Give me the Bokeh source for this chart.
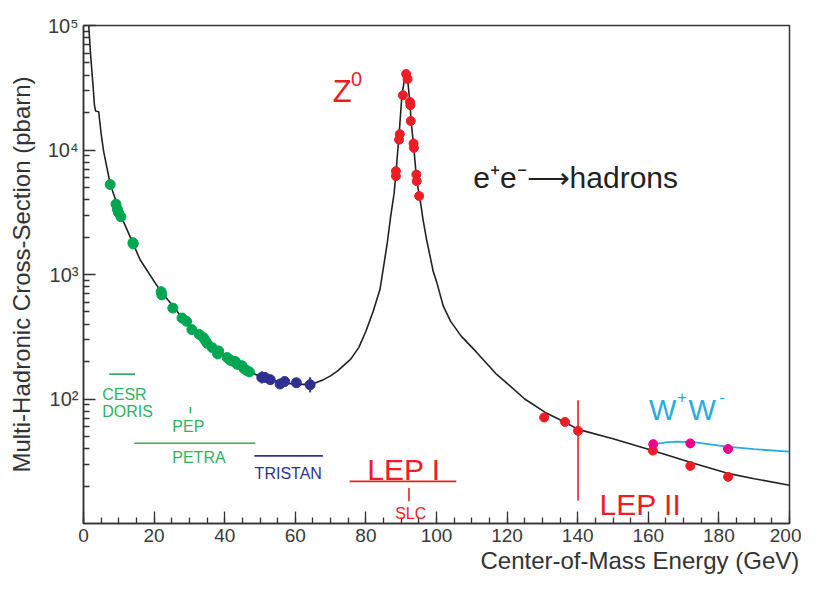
from bokeh.plotting import figure
from bokeh.models import FixedTicker, Label, ColumnDataSource
from bokeh.embed import file_html
from bokeh.resources import INLINE

# ---------------- data ----------------
# Standard-model curve e+e- -> hadrons (GeV, pb)
curve_E = [1.5, 1.96, 2.7, 3.1, 3.4, 4.3, 5.0, 5.7, 7.6, 10.8, 14.1, 16.0, 20.6, 22.0,
           25.3, 27.9, 30.7, 34.0, 38.3, 42.1, 46.8, 50.0, 55.0, 60.0, 64.5, 68.0, 70.1,
           72.0, 75.7, 78.0, 80.0, 82.0, 84.0, 86.0, 87.0, 88.0, 88.5, 89.4, 90.2, 91.0,
           91.4, 91.8, 92.5, 92.8, 93.5, 94.4, 95.2, 96.2, 97.2, 99.1, 100.0, 101.9,
           104.0, 107.0, 111.2, 116.8, 120.5, 125.0, 130.8, 136.4, 140.1, 150.0, 160.7,
           172.8, 182.2, 190.0, 200.0]
curve_sigma = [99000, 60800, 33000, 22900, 20600, 20300, 13500, 9750, 5280, 2880, 1760,
               1320, 830, 728, 560, 450, 365, 305, 243, 202, 166, 152, 138, 131, 131, 143,
               154, 168, 209, 260, 350, 500, 760, 1750, 2900, 4500, 6500, 13200, 27500,
               38000, 40800, 37200, 23600, 17100, 11000, 5620, 4270, 2750, 1900, 1050,
               880, 560, 420, 320, 240, 160, 130, 100, 78, 65, 57, 47.9, 39, 30.5, 25.4,
               22.9, 20.3]

# W+W- contribution curve
ww_curve_E = [161.4, 165.0, 168.2, 172.8, 182.2, 190.0, 200.0]
ww_curve_sigma = [43.2, 44.8, 45.4, 45.0, 41.4, 39.5, 37.8]

# Low-energy data (CESR, DORIS, PEP, PETRA)
low_E = [7.56, 9.2, 9.6, 9.9, 10.6, 14.0, 14.1, 22.0, 22.2, 25.3, 27.9, 29.2, 30.7, 32.8,
         34.0, 34.6, 35.0, 36.5, 38.0, 38.3, 40.7, 41.5, 42.1, 43.0, 43.5, 44.9, 45.5,
         46.3, 47.0]
low_sigma = [5280, 3670, 3350, 3150, 2910, 1800, 1760, 728, 686, 537, 447, 421, 361, 330,
             310, 292, 280, 258, 230, 243, 215, 205, 202, 200, 190, 185, 175, 169, 165]

# TRISTAN data
tristan_E = [50.5, 51.4, 52.9, 55.7, 57.0, 60.3, 64.2]
tristan_sigma = [149, 149, 143, 132, 138, 135, 130]
tristan_err = [1.12, 1.06, 1.06, 1.08, 1.04, 1.04, 1.15]

# LEP I (Z0 peak) data
lep1_E = [91.4, 91.8, 90.5, 92.5, 92.6, 92.7, 89.6, 89.4, 93.5, 93.6, 88.5, 88.5, 94.3,
          94.4, 95.1]
lep1_sigma = [40800, 37200, 27500, 24300, 22900, 17100, 13400, 12100, 11300, 10400, 6760,
              6170, 6350, 5620, 4270]

# LEP II data
lep2_E = [130.5, 136.4, 140.1, 161.3, 171.9, 182.6]
lep2_sigma = [71, 65.5, 55.5, 38.5, 29, 23.7]
lep2_err = [1.08, 1.07, 1.08, 1.05, 1.08, 1.05]

# W+W- data
ww_E = [161.4, 171.9, 182.6]
ww_sigma = [43.4, 44.0, 39.7]

# accelerator ranges (GeV) and their marker heights (pb)
range_names = ["CESR/DORIS", "PEP", "PETRA", "TRISTAN", "LEP I", "SLC", "LEP II"]
range_x0 = [7.3, 30.3, 14.4, 48.4, 75.4, 92.2, 140.1]
range_x1 = [14.6, 30.3, 48.7, 67.8, 105.6, 92.2, 140.1]
range_y0 = [158.5, 76.7, 44.1, 34.9, 21.8, 15.1, 15.3]
range_y1 = [158.5, 86.1, 44.1, 34.9, 21.8, 19.3, 97.5]

x_major = list(range(0, 201, 20))
x_minor = list(range(0, 201, 5))
y_major = [100, 1000, 10000, 100000]
y_major_labels = ["10\u00b2", "10\u00b3", "10\u2074", "10\u2075"]
y_minor = [k * 10 ** d for d in range(1, 5) for k in range(2, 10)]

# ---------------- colours ----------------
GREEN = "#00a651"
GREEN_T = "#2fb25e"
NAVY = "#2e3192"
RED = "#ee1c25"
PINK = "#ec008c"
CYAN = "#29abe2"
FONT = "Liberation Sans"

range_colors = [GREEN_T, GREEN_T, GREEN_T, NAVY, RED, RED, RED]

p = figure(width=801, height=576, x_range=(0, 200), y_range=(10, 1e5),
           y_axis_type="log", output_backend="svg", toolbar_location=None,
           min_border_left=83, min_border_right=12, min_border_top=25,
           min_border_bottom=50)
p.grid.visible = False
p.outline_line_color = "#333333"
p.outline_line_width = 1.5
p.background_fill_color = "white"
p.border_fill_color = "white"

# axes
p.xaxis.ticker = FixedTicker(ticks=x_major, minor_ticks=x_minor)
p.yaxis.ticker = FixedTicker(ticks=y_major, minor_ticks=y_minor)
p.yaxis.major_label_overrides = dict(zip(y_major, y_major_labels))
for ax in (p.xaxis, p.yaxis):
    ax.axis_line_color = "#333333"
    ax.axis_line_width = 1.5
    ax.major_tick_line_color = "#333333"
    ax.minor_tick_line_color = "#333333"
    ax.major_tick_line_width = 1.3
    ax.minor_tick_line_width = 1.3
    ax.major_tick_in = 12
    ax.major_tick_out = 0
    ax.minor_tick_in = 6
    ax.minor_tick_out = 0
    ax.major_label_text_font = FONT
    ax.major_label_text_color = "#3a3a3a"
    ax.axis_label_text_font = FONT
    ax.axis_label_text_font_style = "normal"
    ax.axis_label_text_color = "#333333"
p.xaxis.major_label_text_font_size = "19px"
p.yaxis.major_label_text_font_size = "20px"
p.xaxis.major_label_standoff = 5
p.yaxis.major_label_standoff = 5
p.yaxis.axis_label = "Multi-Hadronic Cross-Section (pbarn)"
p.yaxis.axis_label_text_font_size = "24px"
p.yaxis.axis_label_standoff = 10
# x title pushed to the right end of the axis, as in the original
p.xaxis.axis_label = "\u00a0" * 61 + "Center-of-Mass Energy (GeV)"
p.xaxis.axis_label_text_font_size = "24px"
p.xaxis.axis_label_standoff = 2

# curves
p.line(curve_E, curve_sigma, line_color="#222222", line_width=1.6)
p.line(ww_curve_E, ww_curve_sigma, line_color=CYAN, line_width=1.8)

# error bars
def errbars(E, s, f, color, w=1.5):
    p.segment(x0=E, x1=E, y0=[v / k for v, k in zip(s, f)],
              y1=[v * k for v, k in zip(s, f)], line_color=color, line_width=w)

errbars(tristan_E, tristan_sigma, tristan_err, NAVY, 2)
errbars(lep2_E, lep2_sigma, lep2_err, RED, 1.5)

# data points
p.scatter(low_E, low_sigma, size=10, fill_color=GREEN, line_color=GREEN)
p.scatter(tristan_E, tristan_sigma, size=10, fill_color=NAVY, line_color=NAVY)
p.scatter(lep1_E, lep1_sigma, size=9, fill_color=RED, line_color=RED)
p.scatter(lep2_E, lep2_sigma, size=9, fill_color=RED, line_color=RED)
p.scatter(ww_E, ww_sigma, size=9, fill_color=PINK, line_color=PINK)

# accelerator range markers
src = ColumnDataSource(dict(x0=range_x0, x1=range_x1, y0=range_y0, y1=range_y1,
                            color=range_colors))
p.segment(x0="x0", x1="x1", y0="y0", y1="y1", line_color="color", line_width=1.6,
          source=src)

def lab(x, y, text, color, size, align="left"):
    p.add_layout(Label(x=x, y=y, text=text, text_color=color, text_font=FONT,
                       text_font_size=f"{size}px", text_align=align,
                       text_baseline="alphabetic"))

lab(70.6, 29400, "Z", RED, 31)
lab(75.8, 37300, "0", RED, 20)
lab(110.4, 5980, "e\u207ae\u207b\u27f6hadrons", "#222222", 30)
lab(5.3, 108, "CESR", GREEN_T, 16)
lab(5.3, 80, "DORIS", GREEN_T, 16)
lab(29.7, 60.4, "PEP", GREEN_T, 16, "center")
lab(32.7, 33.8, "PETRA", GREEN_T, 16, "center")
lab(58.0, 25.1, "TRISTAN", NAVY, 16, "center")
lab(80.4, 27.0, "LEP I", RED, 30)
lab(92.7, 12.1, "SLC", RED, 16, "center")
lab(146.2, 14.2, "LEP II", RED, 30)
lab(160.2, 82, "W", CYAN, 29)
lab(168.1, 103, "+", CYAN, 17)
lab(171.4, 82, "W", CYAN, 29)
lab(180.1, 103, "-", CYAN, 17)

open("out.html", "w").write(file_html(p, INLINE))
